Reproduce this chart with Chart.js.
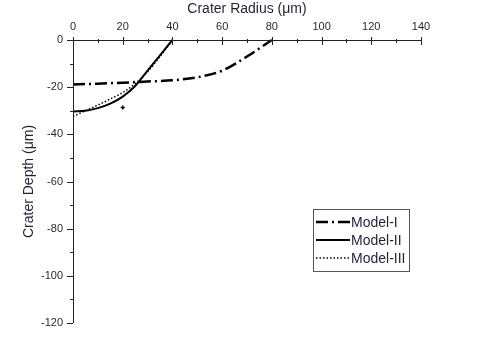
<!DOCTYPE html>
<html><head><meta charset="utf-8">
<script src="https://cdn.jsdelivr.net/npm/chart.js@4"></script>
<style>html,body{margin:0;padding:0;background:#fff}canvas{display:block}</style>
</head><body>
<canvas id="c" width="480" height="345"></canvas>
<script>
const xTickLabels = [0, 20, 40, 60, 80, 100, 120, 140];
const yTickLabels = [0, -20, -40, -60, -80, -100, -120];
const xMinorTicks = [10, 30, 50, 70, 90, 110, 130];
const yMinorTicks = [-10, -30, -50, -70, -90, -110];

const modelI_x = [0, 10, 20, 30, 40, 50, 60, 70, 80];
const modelI_y = [-18.9, -18.5, -18.1, -17.6, -17.1, -15.8, -13.0, -7.0, 0];
const modelII_x = [0, 5, 10, 15, 20, 25, 30, 35, 40];
const modelII_y = [-30.3, -30.0, -28.9, -27.0, -24.0, -19.5, -13.0, -6.5, 0];
const modelIII_x = [0, 5, 10, 15, 20, 25, 30, 35, 40];
const modelIII_y = [-32.4, -30.0, -27.6, -25.0, -22.3, -18.5, -13.5, -7.0, 0];
const strayMark = [{x: 20, y: -28.6}];

const labels = ['Model-I', 'Model-II', 'Model-III'];
const TXT = '#1f2233';
const FONT = '"Liberation Sans", Arial, sans-serif';

function pts(xs, ys){ return xs.map((x,i)=>({x, y: ys[i]})); }

const axesPlugin = {
  id: 'axesPlugin',
  afterDraw(chart){
    const ctx = chart.ctx, xs = chart.scales.x, ys = chart.scales.y;
    const a = chart.chartArea;
    ctx.save();
    ctx.strokeStyle = '#222'; ctx.lineWidth = 1;
    ctx.beginPath();
    ctx.moveTo(a.left, a.top + 0.5); ctx.lineTo(a.right, a.top + 0.5);
    ctx.moveTo(a.left + 0.5, a.top); ctx.lineTo(a.left + 0.5, a.bottom);
    ctx.stroke();
    ctx.beginPath();
    xTickLabels.forEach(v => { const p = Math.round(xs.getPixelForValue(v)) + 0.5; ctx.moveTo(p, a.top - 3); ctx.lineTo(p, a.top + 5); });
    xMinorTicks.forEach(v => { const p = Math.round(xs.getPixelForValue(v)) + 0.5; ctx.moveTo(p, a.top - 1); ctx.lineTo(p, a.top + 3); });
    yTickLabels.forEach(v => { const p = Math.round(ys.getPixelForValue(v)) + 0.5; ctx.moveTo(a.left - 6, p); ctx.lineTo(a.left, p); });
    yMinorTicks.forEach(v => { const p = Math.round(ys.getPixelForValue(v)) + 0.5; ctx.moveTo(a.left - 3, p); ctx.lineTo(a.left, p); });
    ctx.stroke();
    ctx.fillStyle = TXT;
    ctx.font = '11px ' + FONT;
    ctx.textAlign = 'center'; ctx.textBaseline = 'middle';
    xTickLabels.forEach(v => ctx.fillText(String(v), xs.getPixelForValue(v), 27));
    ctx.textAlign = 'right';
    yTickLabels.forEach(v => ctx.fillText(String(v), a.left - 10, ys.getPixelForValue(v)));
    ctx.font = '14px ' + FONT;
    ctx.textAlign = 'center';
    ctx.fillText('Crater Radius (\u03bcm)', xs.getPixelForValue(70), 9);
    ctx.save();
    ctx.translate(29, (a.top + a.bottom) / 2);
    ctx.rotate(-Math.PI / 2);
    ctx.fillText('Crater Depth (\u03bcm)', 0, 0);
    ctx.restore();
    const lx = 313, ly = 209, lw = 96, lh = 62;
    ctx.strokeStyle = '#555';
    ctx.strokeRect(lx + 0.5, ly + 0.5, lw, lh);
    const rows = [222, 240, 258];
    chart.data.datasets.slice(0, 3).forEach((ds, i) => {
      ctx.save();
      ctx.strokeStyle = ds.borderColor; ctx.lineWidth = ds.borderWidth;
      ctx.setLineDash(ds.borderDash || []);
      ctx.beginPath(); ctx.moveTo(316, rows[i]); ctx.lineTo(350, rows[i]); ctx.stroke();
      ctx.restore();
      ctx.font = '14px ' + FONT; ctx.textAlign = 'left'; ctx.fillStyle = TXT;
      ctx.fillText(ds.label, 351, rows[i] + 1);
    });
    ctx.restore();
  }
};

new Chart(document.getElementById('c'), {
  type: 'scatter',
  data: {
    datasets: [
      { label: labels[0], data: pts(modelI_x, modelI_y), showLine: true, borderColor: '#000', borderWidth: 2.5,
        borderDash: [12, 4, 2, 4], pointRadius: 0, cubicInterpolationMode: 'monotone', clip: false },
      { label: labels[1], data: pts(modelII_x, modelII_y), showLine: true, borderColor: '#000', borderWidth: 2,
        pointRadius: 0, cubicInterpolationMode: 'monotone', clip: false },
      { label: labels[2], data: pts(modelIII_x, modelIII_y), showLine: true, borderColor: '#000', borderWidth: 1.5,
        borderDash: [1.5, 2], pointRadius: 0, cubicInterpolationMode: 'monotone', clip: false },
      { label: 'mark', data: strayMark, showLine: false, pointStyle: 'cross', pointRadius: 2, borderColor: '#000',
        borderWidth: 1.5, backgroundColor: '#000' }
    ]
  },
  options: {
    responsive: false, animation: false,
    layout: { padding: { left: 0, right: 59, top: 0, bottom: 22 } },
    plugins: { legend: { display: false }, tooltip: { enabled: false } },
    scales: {
      x: { type: 'linear', position: 'top', min: 0, max: 140,
        ticks: { display: false }, grid: { display: false }, border: { display: false },
        afterFit(s){ s.height = 40; } },
      y: { type: 'linear', position: 'left', min: -120, max: 0,
        ticks: { display: false }, grid: { display: false }, border: { display: false },
        afterFit(s){ s.width = 73; } }
    }
  },
  plugins: [axesPlugin]
});
</script>
</body></html>
